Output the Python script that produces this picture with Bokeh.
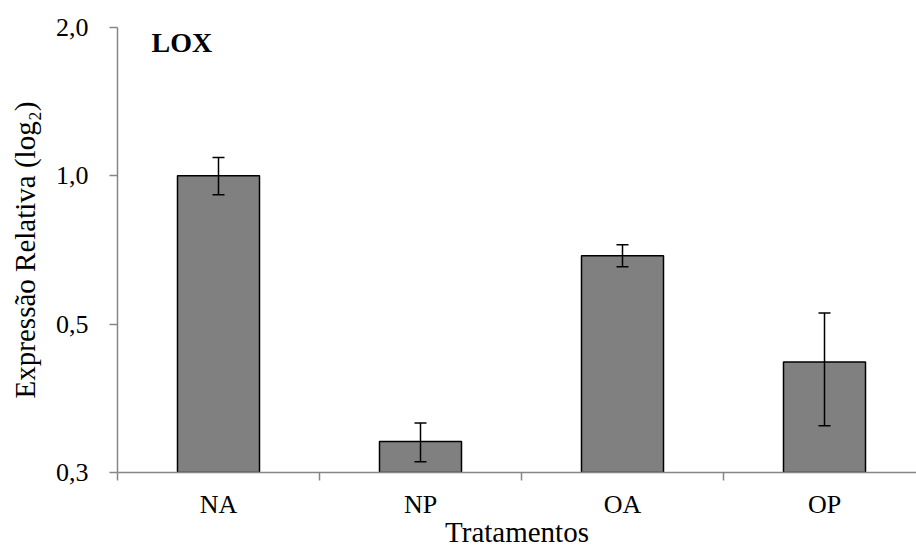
from bokeh.plotting import figure
from bokeh.models import (ColumnDataSource, Range1d, FixedTicker, Whisker, TeeHead, Label)
from bokeh.embed import file_html
from bokeh.resources import INLINE

# Data
categories = ["NA", "NP", "OA", "OP"]
values = [1.0, 0.289, 0.688, 0.419]
err_upper = [1.089, 0.315, 0.725, 0.527]
err_lower = [0.915, 0.263, 0.654, 0.311]
y_ticks = [0.25, 0.5, 1.0, 2.0]
y_tick_labels = ["0,3", "0,5", "1,0", "2,0"]

FONT = "'Liberation Serif', 'Times New Roman', serif"
AXIS_GRAY = "#868686"

xc = [i + 0.5 for i in range(len(categories))]
src = ColumnDataSource(dict(x=xc, top=values, upper=err_upper, lower=err_lower))

p = figure(width=916, height=555, output_backend="svg", toolbar_location=None,
           y_axis_type="log",
           x_range=Range1d(0, 799 / 202), y_range=Range1d(0.25, 2.0),
           min_border_left=117, min_border_right=0, min_border_top=27, min_border_bottom=83)
p.outline_line_color = None
p.grid.visible = False
p.background_fill_color = "white"
p.border_fill_color = "white"

p.vbar(x="x", top="top", bottom=0.25, width=0.406, source=src,
       fill_color="#808080", line_color="black", line_width=1.5)

w = Whisker(base="x", upper="upper", lower="lower", source=src, level="annotation",
            line_color="black", line_width=1.5,
            upper_head=TeeHead(size=12, line_color="black", line_width=1.5),
            lower_head=TeeHead(size=12, line_color="black", line_width=1.5))
p.add_layout(w)

# y axis
ya = p.yaxis[0]
ya.ticker = FixedTicker(ticks=y_ticks, minor_ticks=[])
ya.major_label_overrides = {t: l for t, l in zip(y_ticks, y_tick_labels)}
ya.axis_line_color = AXIS_GRAY
ya.axis_line_width = 1.5
ya.major_tick_line_color = AXIS_GRAY
ya.major_tick_line_width = 1.5
ya.major_tick_out = 8
ya.major_tick_in = 0
ya.minor_tick_out = 0
ya.minor_tick_in = 0
ya.major_label_text_font = FONT
ya.major_label_text_font_size = "26px"
ya.major_label_text_color = "black"
ya.major_label_standoff = 21
ya.axis_label = "Expressão Relativa (log₂)"
ya.axis_label_text_font = FONT
ya.axis_label_text_font_size = "29px"
ya.axis_label_text_font_style = "normal"
ya.axis_label_text_color = "black"
ya.axis_label_standoff = 12

# x axis
xa = p.xaxis[0]
xa.ticker = FixedTicker(ticks=xc, minor_ticks=[0, 1, 2, 3])
xa.major_label_overrides = {x: c for x, c in zip(xc, categories)}
xa.axis_line_color = AXIS_GRAY
xa.axis_line_width = 1.5
xa.major_tick_out = 0
xa.major_tick_in = 0
xa.minor_tick_line_color = AXIS_GRAY
xa.minor_tick_line_width = 1.5
xa.minor_tick_out = 8
xa.minor_tick_in = 0
xa.major_label_text_font = FONT
xa.major_label_text_font_size = "26px"
xa.major_label_text_color = "black"
xa.major_label_standoff = 9
xa.axis_label = "Tratamentos"
xa.axis_label_text_font = FONT
xa.axis_label_text_font_size = "29px"
xa.axis_label_text_font_style = "normal"
xa.axis_label_text_color = "black"
xa.axis_label_standoff = -6

lbl = Label(x=34 / 202, y=1.866, text="LOX", text_font=FONT, text_font_size="28px",
            text_font_style="bold", text_color="black", text_baseline="alphabetic")
p.add_layout(lbl)

open("out.html", "w").write(file_html(p, INLINE))
